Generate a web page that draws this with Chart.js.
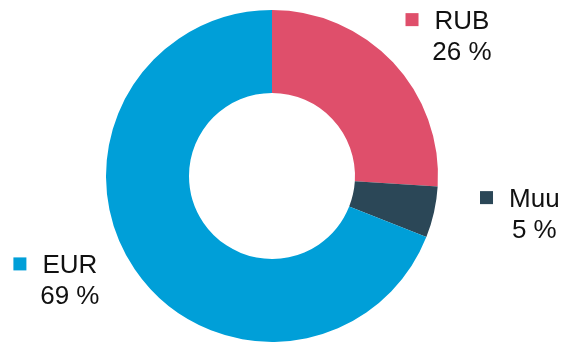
<!DOCTYPE html>
<html>
<head>
<meta charset="utf-8">
<script src="https://cdn.jsdelivr.net/npm/chart.js@4/dist/chart.umd.min.js"></script>
<style>
  html, body { margin: 0; padding: 0; background: #fff; }
  #wrap { width: 562px; height: 343px; position: relative; }
</style>
</head>
<body>
<div id="wrap"><canvas id="myChart"></canvas></div>
<script>
// data
const labels = ['RUB', 'Muu', 'EUR'];
const shares = [26, 5, 69];
const colors = ['#DF4F6B', '#2B4757', '#009FD8'];

// label block shift from the slice's radial anchor
const nudges = [[18, 7], [37, -10], [-38, -18]];

const outsideLabels = {
  id: 'outsideLabels',
  afterDraw(chart) {
    const ctx = chart.ctx;
    const meta = chart.getDatasetMeta(0);
    ctx.save();
    ctx.font = '26px "Liberation Sans", Arial, sans-serif';
    ctx.textBaseline = 'alphabetic';
    meta.data.forEach((arc, i) => {
      const p = arc.getProps(['x', 'y', 'startAngle', 'endAngle', 'outerRadius'], true);
      const mid = (p.startAngle + p.endAngle) / 2;
      const r = p.outerRadius + 50;
      const cx = p.x + Math.cos(mid) * r + nudges[i][0];
      const cy = p.y + Math.sin(mid) * r + nudges[i][1];

      const w1 = ctx.measureText(labels[i]).width;
      const left = cx - (29 + w1) / 2;
      const base = cy - 6;

      ctx.fillStyle = colors[i];
      ctx.fillRect(left, base - 16, 13, 13);

      ctx.fillStyle = '#111';
      ctx.textAlign = 'left';
      ctx.fillText(labels[i], left + 29, base);
      ctx.textAlign = 'center';
      ctx.fillText(shares[i] + ' %', left + 29 + w1 / 2, base + 31);
    });
    ctx.restore();
  }
};

const ctx = document.getElementById('myChart').getContext('2d');
const myChart = new Chart(ctx, {
  type: 'doughnut',
  data: {
    labels: labels,
    datasets: [{
      data: shares,
      backgroundColor: colors,
      borderWidth: 0
    }]
  },
  options: {
    responsive: true,
    maintainAspectRatio: false,
    animation: false,
    cutout: '50%',
    layout: { padding: { top: 10, bottom: 1, left: 0, right: 18 } },
    plugins: {
      legend: { display: false },
      tooltip: { enabled: false }
    }
  },
  plugins: [outsideLabels]
});
</script>
</body>
</html>
